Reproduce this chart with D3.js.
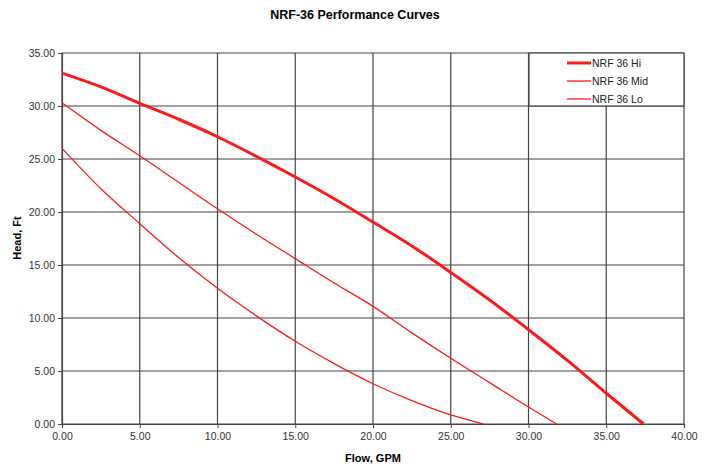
<!DOCTYPE html>
<html>
<head>
<meta charset="utf-8">
<script src="https://cdn.jsdelivr.net/npm/d3@7"></script>
<style>
  body { margin: 0; background: #fff; }
  svg { font-family: "Liberation Sans", Arial, sans-serif; }
</style>
</head>
<body>
<svg id="chart" width="710" height="468"></svg>
<script>
// ---------- data
var flowHi = [0, 2.5, 5, 7.5, 10, 12.5, 15, 17.5, 20, 22.5, 25, 27.5, 30, 32.5, 35, 37.4];
var headHi = [33.1, 31.8, 30.25, 28.75, 27.1, 25.25, 23.3, 21.25, 19.05, 16.8, 14.3, 11.7, 8.9, 6.0, 2.9, 0];

var flowMid = [0, 2.5, 5, 7.5, 10, 12.5, 15, 17.5, 20, 22.5, 25, 27.5, 30, 31.8];
var headMid = [30.3, 27.7, 25.3, 22.8, 20.3, 17.9, 15.6, 13.3, 11.1, 8.6, 6.2, 3.9, 1.6, 0];

var flowLo = [0, 2.5, 5, 7.5, 10, 12.5, 15, 17.5, 20, 22.5, 25, 27.1];
var headLo = [26.0, 22.2, 18.9, 15.7, 12.8, 10.2, 7.8, 5.7, 3.8, 2.2, 0.85, 0];

var seriesNames = ['NRF 36 Hi', 'NRF 36 Mid', 'NRF 36 Lo'];
var xTicks = [0, 5, 10, 15, 20, 25, 30, 35, 40];
var yTicks = [0, 5, 10, 15, 20, 25, 30, 35];

(function() {
  // ----------
  var svg = d3.select('#chart');
  var plotLeft = 62, plotRight = 684, plotTop = 53, plotBottom = 424;

  var x = d3.scaleLinear().domain([0, 40]).range([plotLeft, plotRight]);
  var y = d3.scaleLinear().domain([0, 35]).range([plotBottom, plotTop]);

  var gridColor = '#444';

  // grid
  svg.append('g').selectAll('line').data(xTicks).enter().append('line')
    .attr('x1', function(d) { return x(d); })
    .attr('x2', function(d) { return x(d); })
    .attr('y1', plotTop).attr('y2', plotBottom)
    .attr('stroke', gridColor).attr('stroke-width', 1.2);

  svg.append('g').selectAll('line').data(yTicks).enter().append('line')
    .attr('x1', plotLeft).attr('x2', plotRight)
    .attr('y1', function(d) { return y(d); })
    .attr('y2', function(d) { return y(d); })
    .attr('stroke', gridColor).attr('stroke-width', 1.2);

  // axes
  var fmt = d3.format('.2f');
  var xAxis = svg.append('g')
    .attr('transform', 'translate(0,' + plotBottom + ')')
    .call(d3.axisBottom(x).tickValues(xTicks).tickFormat(fmt).tickSize(4).tickPadding(5));
  var yAxis = svg.append('g')
    .attr('transform', 'translate(' + plotLeft + ',0)')
    .call(d3.axisLeft(y).tickValues(yTicks).tickFormat(fmt).tickSize(4).tickPadding(3));

  [xAxis, yAxis].forEach(function(a) {
    a.select('.domain').attr('stroke', gridColor).attr('stroke-width', 1.2);
    a.selectAll('.tick line').attr('stroke', gridColor);
    a.selectAll('.tick text')
      .attr('fill', '#333')
      .style('font-size', '10.5px')
      .style('font-family', '"Liberation Sans", Arial, sans-serif');
  });

  // curves
  var series = [
    { flow: flowHi, head: headHi, width: 3 },
    { flow: flowMid, head: headMid, width: 1.3 },
    { flow: flowLo, head: headLo, width: 1.3 }
  ];

  var line = d3.line()
    .x(function(d) { return x(d[0]); })
    .y(function(d) { return y(d[1]); })
    .curve(d3.curveMonotoneX);

  series.forEach(function(s) {
    svg.append('path')
      .datum(d3.zip(s.flow, s.head))
      .attr('fill', 'none')
      .attr('stroke', '#ff1a1a')
      .attr('stroke-width', s.width)
      .attr('d', line);
  });

  // legend
  var lg = svg.append('g');
  lg.append('rect')
    .attr('x', 529).attr('y', plotTop)
    .attr('width', plotRight - 529).attr('height', y(30) - plotTop)
    .attr('fill', '#fff')
    .attr('stroke', gridColor).attr('stroke-width', 1.2);

  seriesNames.forEach(function(name, i) {
    var ly = 63 + i * 18;
    lg.append('line')
      .attr('x1', 567).attr('x2', 591)
      .attr('y1', ly).attr('y2', ly)
      .attr('stroke', '#ff1a1a')
      .attr('stroke-width', series[i].width);
    lg.append('text')
      .attr('x', 592).attr('y', ly + 4)
      .attr('font-size', '10.5px')
      .attr('fill', '#222')
      .text(name);
  });

  // titles
  svg.append('text')
    .attr('x', 355).attr('y', 19)
    .attr('text-anchor', 'middle')
    .attr('font-size', '12.5px')
    .attr('font-weight', 'bold')
    .text('NRF-36 Performance Curves');

  svg.append('text')
    .attr('x', 373).attr('y', 462)
    .attr('text-anchor', 'middle')
    .attr('font-size', '11px')
    .attr('font-weight', 'bold')
    .text('Flow, GPM');

  var hx = 21, hy = 238;
  svg.append('text')
    .attr('x', hx).attr('y', hy)
    .attr('text-anchor', 'middle')
    .attr('transform', 'rotate(-90 ' + hx + ',' + hy + ')')
    .attr('font-size', '11px')
    .attr('font-weight', 'bold')
    .text('Head, Ft');
})();
</script>
</body>
</html>
